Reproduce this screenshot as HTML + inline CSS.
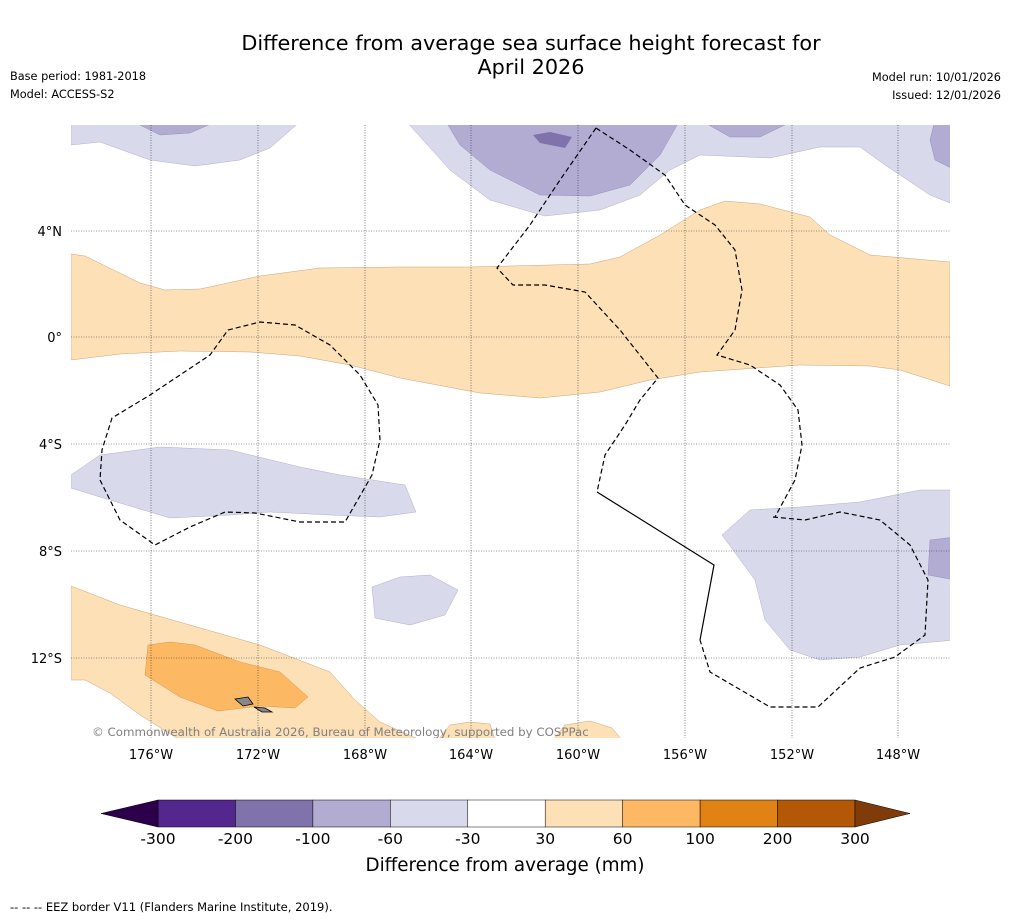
<!DOCTYPE html>
<html><head><meta charset="utf-8"><style>
body{margin:0;background:#fff;font-family:"Liberation Sans","DejaVu Sans",sans-serif;}
svg text{font-family:"DejaVu Sans","Liberation Sans",sans-serif;}
</style></head><body>
<svg width="1011" height="919" viewBox="0 0 1011 919">
<text x="531" y="50" font-size="20.8" text-anchor="middle">Difference from average sea surface height forecast for</text>
<text x="531" y="74" font-size="20.8" text-anchor="middle">April 2026</text>
<text x="10" y="80" font-size="11.3">Base period: 1981-2018</text>
<text x="10" y="98" font-size="11.3">Model: ACCESS-S2</text>
<text x="1001" y="81" font-size="11.3" text-anchor="end">Model run: 10/01/2026</text>
<text x="1001" y="99" font-size="11.3" text-anchor="end">Issued: 12/01/2026</text>
<defs><clipPath id="mc"><rect x="71" y="125" width="879" height="613"/></clipPath></defs>
<g clip-path="url(#mc)">
<rect x="71" y="125" width="879" height="613" fill="#fff"/>
<g stroke="#c9a27a" stroke-width="0.5" fill="#fee0b6">
<path d="M71,254 L85,256 L140,283 L165,290 L200,289 L260,276 L320,268 L400,267 L470,267 L590,264 L620,257 L660,235 L700,210 L725,201 L760,204 L810,217 L830,235 L870,255 L950,262 L950,386 L900,370 L870,366 L800,365 L700,372 L650,380 L600,392 L540,398 L480,393 L400,378 L350,365 L300,356 L250,352 L180,351 L120,354 L71,360 Z"/>
<path d="M71,586 L120,605 L190,625 L260,645 L330,672 L355,700 L380,722 L420,740 L180,740 L140,715 L110,693 L85,680 L71,680 Z"/>
<path d="M438,740 L450,725 L470,722 L490,724 L495,740 Z"/>
<path d="M553,740 L565,725 L590,721 L612,728 L622,740 Z"/>
</g>
<path d="M148,645 L170,642 L195,645 L240,662 L280,672 L308,697 L295,708 L260,706 L218,711 L180,697 L145,675 Z" fill="#fdb863" stroke="#d8964f" stroke-width="0.5"/>
<g fill="#d8daeb" stroke="#b0b0c8" stroke-width="0.5">
<path d="M71,120 L302,120 L270,148 L240,160 L195,166 L150,160 L100,142 L71,145 Z"/>
<path d="M405,120 L955,120 L950,203 L930,195 L885,165 L860,147 L820,147 L770,158 L700,155 L670,170 L640,195 L600,210 L545,216 L490,200 L450,170 Z"/>
<path d="M71,475 L100,455 L160,447 L230,450 L300,467 L340,475 L405,485 L416,512 L380,517 L330,515 L270,512 L230,515 L170,518 L100,497 L71,488 Z"/>
<path d="M372,587 L400,577 L430,575 L458,590 L445,615 L410,625 L375,618 Z"/>
<path d="M722,535 L750,510 L800,507 L860,502 L920,490 L955,490 L955,640 L900,645 L860,657 L820,660 L790,650 L765,620 L755,580 Z"/>
</g>
<g fill="#b2abd2" stroke="#9590b8" stroke-width="0.5">
<path d="M130,120 L220,120 L190,133 L160,135 Z"/>
<path d="M445,120 L680,120 L660,155 L630,185 L590,196 L540,195 L490,170 L460,145 Z"/>
<path d="M700,120 L795,120 L760,137 L730,137 Z"/>
<path d="M935,120 L955,120 L955,170 L935,160 L930,140 Z"/>
<path d="M930,540 L955,537 L955,580 L928,575 Z"/>
</g>
<path d="M533,135 L550,132 L572,137 L565,148 L540,143 Z" fill="#8073ac"/>
<g stroke="#333" stroke-width="0.6" stroke-dasharray="1,1.5">
<line x1="151" y1="125" x2="151" y2="738"/><line x1="258" y1="125" x2="258" y2="738"/><line x1="365" y1="125" x2="365" y2="738"/><line x1="471" y1="125" x2="471" y2="738"/><line x1="578" y1="125" x2="578" y2="738"/><line x1="685" y1="125" x2="685" y2="738"/><line x1="792" y1="125" x2="792" y2="738"/><line x1="898" y1="125" x2="898" y2="738"/>
<line x1="71" y1="231" x2="950" y2="231"/><line x1="71" y1="337" x2="950" y2="337"/><line x1="71" y1="444" x2="950" y2="444"/><line x1="71" y1="551" x2="950" y2="551"/><line x1="71" y1="658" x2="950" y2="658"/>
</g>
<g fill="none" stroke="#000" stroke-width="1.2">
<path stroke-dasharray="5,3" d="M596,128 L630,150 L665,175 L685,205 L715,225 L735,250 L742,290 L735,330 L717,355 L750,365 L780,385 L798,410 L802,445 L795,480 L775,517"/>
<path stroke-dasharray="5,3" d="M773,517 L805,520 L840,512 L880,520 L910,545 L928,580 L925,635 L895,657 L860,668 L818,707 L770,707 L710,672 L700,640"/>
<path d="M597,492 L714,565 L700,640"/>
<path stroke-dasharray="5,3" d="M596,128 L560,180 L530,225 L497,268 L513,285 L545,285 L585,292 L620,330 L658,378 L640,400 L625,425 L605,455 L597,492"/>
<path stroke-dasharray="5,3" d="M228,330 L260,322 L295,325 L330,345 L360,375 L378,405 L380,440 L372,475 L345,522 L300,522 L255,513 L225,512 L190,527 L155,545 L120,520 L100,480 L102,450 L112,418 L150,395 L210,355 Z"/>
</g>
<g fill="#888" stroke="#000" stroke-width="0.8">
<path d="M235,699 L248,697 L253,704 L243,706 Z"/><path d="M254,707 L265,708 L272,712 L262,712 Z"/>
</g>
<text x="92" y="736" font-size="11.8" fill="#808080">© Commonwealth of Australia 2026, Bureau of Meteorology, supported by COSPPac</text>
</g>
<g font-size="13">
<text x="151" y="759" text-anchor="middle">176°W</text><text x="258" y="759" text-anchor="middle">172°W</text><text x="365" y="759" text-anchor="middle">168°W</text><text x="471" y="759" text-anchor="middle">164°W</text><text x="578" y="759" text-anchor="middle">160°W</text><text x="685" y="759" text-anchor="middle">156°W</text><text x="792" y="759" text-anchor="middle">152°W</text><text x="898" y="759" text-anchor="middle">148°W</text>
<text x="62" y="236" text-anchor="end">4°N</text><text x="62" y="342" text-anchor="end">0°</text><text x="62" y="449" text-anchor="end">4°S</text><text x="62" y="556" text-anchor="end">8°S</text><text x="62" y="663" text-anchor="end">12°S</text>
</g>
<g id="cbar"></g>
<text x="505" y="871" font-size="18.3" text-anchor="middle">Difference from average (mm)</text>
<text x="10" y="911" font-size="11.5">--  --  -- EEZ border V11 (Flanders Marine Institute, 2019).</text>
</svg>
<script>
const levels=[-300,-200,-100,-60,-30,30,60,100,200,300];
const levelColors=["#54278f","#8073ac","#b2abd2","#d8daeb","#ffffff","#fee0b6","#fdb863","#e08214","#b35806"];
const tickLabels=["-300","-200","-100","-60","-30","30","60","100","200","300"];
const ns="http://www.w3.org/2000/svg",g=document.getElementById('cbar');
const x0=158,x1=855,y0=800,h=27,n=levels.length-1,w=(x1-x0)/n;
function mk(t,a){const e=document.createElementNS(ns,t);for(const k in a)e.setAttribute(k,a[k]);g.appendChild(e);return e;}
for(let i=0;i<n;i++){const r=mk('rect',{x:x0+i*w,y:y0,width:w,height:h,fill:levelColors[i],stroke:'#000','stroke-width':0.5});

}
const l=mk('polygon',{points:`${x0},${y0} ${x0-57},${y0+h/2} ${x0},${y0+h}`,fill:'#2d004b',stroke:'#000','stroke-width':0.5});


const r2=mk('polygon',{points:`${x1},${y0} ${x1+55},${y0+h/2} ${x1},${y0+h}`,fill:'#7f3b08',stroke:'#000','stroke-width':0.5});


tickLabels.forEach((t,i)=>{const e=mk('text',{x:x0+i*w,y:844,'font-size':15.5,'text-anchor':'middle'});e.textContent=t;

});
</script>
</body></html>
